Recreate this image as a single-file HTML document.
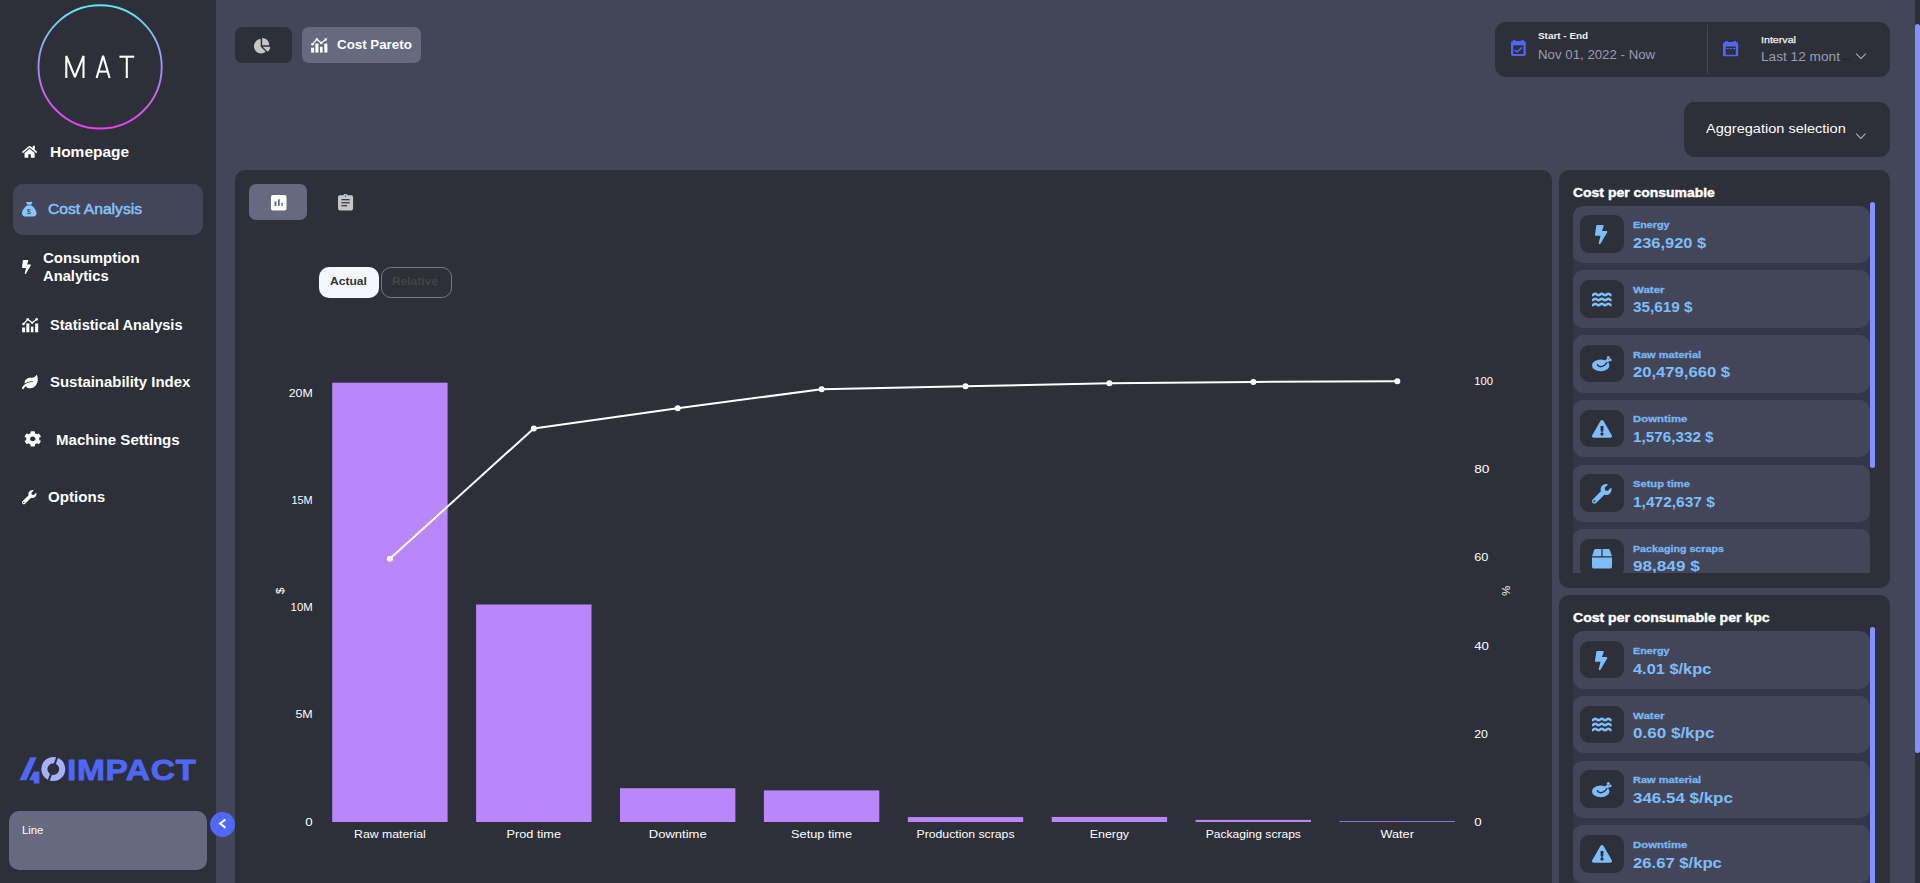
<!DOCTYPE html><html><head><meta charset="utf-8"><title>MAT - Cost Analysis</title><style>
html,body{margin:0;padding:0;background:#434658;}
body{width:1920px;height:883px;overflow:hidden;position:relative;font-family:"Liberation Sans",sans-serif;}
#root{position:absolute;left:0;top:0;width:1920px;height:883px;overflow:hidden;background:#434658;}
.b{position:absolute;box-sizing:border-box;}
.t{position:absolute;white-space:pre;transform-origin:0 0;line-height:20px;font-family:"Liberation Sans",sans-serif;}
.i{position:absolute;overflow:visible;}
.panel{position:absolute;background:#2d2f39;border-radius:10px;}
.list{position:absolute;left:1573px;width:297px;overflow:hidden;}
.lbg{position:absolute;left:0;top:12px;width:297px;height:600px;background:#343649;}
.card{position:absolute;left:0;width:297px;height:57.5px;background:#434658;border-radius:10px;}
.ibox{position:absolute;left:7px;top:9.8px;width:44px;height:37.5px;border-radius:9px;background:#2d2f39;}
</style></head><body><div id="root">
<div class="b" style="left:0;top:0;width:216px;height:883px;background:#2d2f39"></div>
<svg class="i" style="left:30px;top:0;width:140px;height:135px" viewBox="30 0 140 135">
<defs><linearGradient id="lg" x1="0" y1="0" x2="0" y2="1"><stop offset="0" stop-color="#5ee7f0"/><stop offset="0.5" stop-color="#a58cf5"/><stop offset="1" stop-color="#e83df0"/></linearGradient></defs>
<circle cx="100.1" cy="66.900" r="61.600" fill="none" stroke="url(#lg)" stroke-width="1.900"/>
<g fill="none" stroke="#ffffff" stroke-width="2.100" stroke-linejoin="bevel">
<polyline points="66.300,78 66.300,55.900 74.900,77 83.500,55.900 83.500,78"/>
<polyline points="96.600,78 103.100,55.900 109.600,78"/><line x1="98.500" y1="71.600" x2="107.700" y2="71.600"/>
<line x1="119.400" y1="56.700" x2="134.200" y2="56.700"/><line x1="126.800" y1="56.700" x2="126.800" y2="78"/>
</g></svg>
<div class="b" style="left:13px;top:184px;width:190px;height:51px;background:#434658;border-radius:10px"></div>
<svg class="i" style="left:22.2px;top:145.2px;width:15.2px;height:13.5px;color:#ffffff" viewBox="0 0 576 512" preserveAspectRatio="none" fill="currentColor"><path d="M280.37 148.26L96 300.11V464a16 16 0 0 0 16 16l112.06-.29a16 16 0 0 0 15.92-16V368a16 16 0 0 1 16-16h64a16 16 0 0 1 16 16v95.64a16 16 0 0 0 16 16.05L464 480a16 16 0 0 0 16-16V300L295.67 148.26a12.19 12.19 0 0 0-15.3 0zM571.6 251.47L488 182.56V44.05a12 12 0 0 0-12-12h-56a12 12 0 0 0-12 12v72.61L318.47 43a48 48 0 0 0-61 0L4.34 251.47a12 12 0 0 0-1.6 16.9l25.5 31A12 12 0 0 0 45.15 301l235.22-193.74a12.19 12.19 0 0 1 15.3 0L530.9 301a12 12 0 0 0 16.9-1.6l25.5-31a12 12 0 0 0-1.7-16.93z"/></svg>
<svg class="i" style="left:21.8px;top:201.8px;width:14.5px;height:14.5px;color:#88c8fe" viewBox="0 0 14.5 14.5" preserveAspectRatio="none" fill="currentColor"><path d="M3.900 0h6.600l-1.300 2.400h-3.800z"/><path d="M5.300 2.400h4l.200 1h-4.400z" opacity="0.750"/><path d="M5.100 3.400 L9.500 3.400 C12 5 14.500 8.500 14.500 11.200 C14.500 13.200 13.300 14.400 11.500 14.400 L3 14.400 C1.200 14.400 0 13.200 0 11.200 C0 8.500 2.500 5 5.100 3.400Z"/><text x="6.900" y="11.900" font-family="Liberation Sans" font-weight="400" font-size="7.600" text-anchor="middle" fill="#3a3c4e">$</text></svg>
<svg class="i" style="left:21.8px;top:260px;width:9px;height:14px;color:#ffffff" viewBox="0 0 320 512" preserveAspectRatio="none" fill="currentColor"><path d="M296 160H180.6l42.6-129.8C227.2 15 215.7 0 200 0H56C44 0 33.8 8.9 32.2 20.8l-32 240C-1.7 275.2 9.5 288 24 288h118.7L96.6 482.5c-3.6 15.2 8 29.5 23.3 29.5 8.4 0 16.4-4.4 20.8-12l176-304c9.3-15.9-2.2-36-20.7-36z"/></svg>
<svg class="i" style="left:21.8px;top:318px;width:16.3px;height:14.3px;color:#ffffff" viewBox="0 0 16.5 14.6" preserveAspectRatio="none" fill="currentColor"><rect x="0.1" y="9.7" width="3" height="4.9"/><rect x="4.35" y="5.6" width="3.15" height="9"/><rect x="9" y="8.8" width="2.6" height="5.8"/><rect x="13.3" y="5.6" width="3.1" height="9"/><polyline points="1.5,6.2 5.8,1.3 10.3,4.95 14.8,1.4" fill="none" stroke="currentColor" stroke-width="1.25"/><circle cx="1.5" cy="6.2" r="1.3"/><circle cx="5.8" cy="1.3" r="1.3"/><circle cx="10.3" cy="4.95" r="1.2"/><circle cx="14.8" cy="1.4" r="1.3"/></svg>
<svg class="i" style="left:21.8px;top:374.7px;width:15.8px;height:14.2px;color:#ffffff" viewBox="0 0 576 512" preserveAspectRatio="none" fill="currentColor"><path d="M546.2 9.7c-5.6-12.5-21.6-13-28.3-1.2C486.9 62.4 431.4 96 368 96h-80C182 96 96 182 96 288c0 7 .8 13.7 1.5 20.5C161.3 262.8 253.4 224 384 224c8.8 0 16 7.2 16 16s-7.2 16-16 16C132.6 256 26 410.1 2.4 468c-6.6 16.3 1.2 34.9 17.5 41.6 16.4 6.8 35-1.1 41.8-17.3 1.5-3.6 20.9-47.9 71.9-90.6 32.4 43.9 94 85.8 174.9 77.2C465.5 467.5 576 326.7 576 154.3c0-50.2-10.8-102.2-29.8-144.6z"/></svg>
<svg class="i" style="left:24.3px;top:430.5px;width:17.5px;height:15.7px;color:#ffffff" viewBox="0 0 512 512" preserveAspectRatio="none" fill="currentColor"><path d="M487.4 315.7l-42.6-24.6c4.3-23.2 4.3-47 0-70.2l42.6-24.6c4.9-2.8 7.1-8.6 5.5-14-11.1-35.6-30-67.8-54.7-94.6-3.8-4.1-10-5.1-14.8-2.3L380.8 110c-17.9-15.4-38.5-27.3-60.8-35.1V25.8c0-5.6-3.9-10.5-9.4-11.7-36.7-8.2-74.3-7.8-109.2 0-5.5 1.2-9.4 6.1-9.4 11.7V75c-22.2 7.9-42.8 19.8-60.8 35.1L88.7 85.5c-4.9-2.8-11-1.9-14.8 2.3-24.7 26.7-43.6 58.9-54.7 94.6-1.7 5.4.6 11.2 5.5 14L67.3 221c-4.3 23.2-4.3 47 0 70.2l-42.6 24.6c-4.9 2.8-7.1 8.6-5.5 14 11.1 35.6 30 67.8 54.7 94.6 3.8 4.1 10 5.1 14.8 2.3l42.6-24.6c17.9 15.4 38.5 27.3 60.8 35.1v49.2c0 5.6 3.9 10.5 9.4 11.7 36.7 8.2 74.3 7.8 109.2 0 5.5-1.2 9.4-6.1 9.4-11.7v-49.2c22.2-7.9 42.8-19.8 60.8-35.1l42.6 24.6c4.9 2.8 11 1.9 14.8-2.3 24.7-26.7 43.6-58.9 54.7-94.6 1.5-5.5-.7-11.3-5.6-14.1zM256 336c-44.1 0-80-35.9-80-80s35.9-80 80-80 80 35.9 80 80-35.9 80-80 80z"/></svg>
<svg class="i" style="left:21.8px;top:489.7px;width:14.5px;height:14.3px;color:#ffffff" viewBox="0 0 512 512" preserveAspectRatio="none" fill="currentColor"><path d="M507.73 109.1c-2.24-9.03-13.54-12.09-20.12-5.51l-74.36 74.36-67.88-11.31-11.31-67.88 74.36-74.36c6.62-6.62 3.43-17.9-5.66-20.16-47.38-11.74-99.55.91-136.58 37.93-39.64 39.64-50.55 97.1-34.05 147.2L18.74 402.76c-24.99 24.99-24.99 65.51 0 90.5 24.99 24.99 65.51 24.99 90.5 0l213.21-213.21c50.12 16.71 107.47 5.68 147.37-34.22 37.07-37.07 49.7-89.32 37.91-136.73zM64 472c-13.25 0-24-10.75-24-24 0-13.26 10.75-24 24-24s24 10.74 24 24c0 13.25-10.75 24-24 24z"/></svg>
<svg class="i" style="left:18px;top:755px;width:180px;height:32px" viewBox="18 755 180 32">
<path d="M19.450 780.200 L30.200 757.300 L36.700 757.300 L26.250 780.200 Z" fill="#4e68f5"/>
<path d="M29.100 780.200 L33.750 771.600 L39.400 771.600 L39.400 783.500 L33.750 783.500 L33.750 780.200 Z" fill="#4e68f5"/>
<circle cx="53.300" cy="769.100" r="8.950" fill="none" stroke="#a5b0ff" stroke-width="6.100"/>
<path d="M56.300 756.800 L58.200 757.500 L49.700 780.700 L47.800 780 Z" fill="#2d2f39"/>
</svg>
<span class="t" style="left:66.700px;top:753.500px;font-size:30.400px;line-height:30.400px;font-weight:700;color:#4e68f5;-webkit-text-stroke:0.800px #4e68f5;letter-spacing:0.500px;transform:scaleX(1.105)">IMPACT</span>
<div class="b" style="left:9px;top:811px;width:198px;height:59px;background:#666a80;border-radius:10px"></div>
<div class="b" style="left:210px;top:812px;width:25px;height:25px;border-radius:50%;background:#5068fa"></div>
<svg class="i" style="left:210px;top:812px;width:25px;height:25px" viewBox="0 0 25 25"><polyline points="15.400,7.500 10.100,11.500 15.400,15.600" fill="none" stroke="#fff" stroke-width="2" stroke-linecap="butt" stroke-linejoin="miter"/></svg>
<div class="b" style="left:235px;top:27px;width:57px;height:36px;background:#2d2f39;border-radius:7px"></div>
<svg class="i" style="left:253.9px;top:37.7px;width:16.3px;height:15.4px;color:#c6c6c6" viewBox="0 0 544 512" preserveAspectRatio="none" fill="currentColor"><path d="M527.79 288H290.5l158.03 158.03c6.04 6.04 15.98 6.53 22.19.68 38.7-36.46 65.32-85.61 73.13-140.86 1.34-9.46-6.51-17.85-16.06-17.85zm-15.83-64.8C503.72 103.74 408.26 8.28 288.8.04 279.68-.59 272 7.1 272 16.24V240h223.77c9.14 0 16.82-7.68 16.19-16.8zM224 288V50.71c0-9.55-8.39-17.4-17.84-16.06C86.99 51.49-4.1 155.6.14 280.37 4.5 408.51 114.83 513.59 243.03 511.98c50.4-.63 96.97-16.87 135.26-44.03 7.9-5.6 8.42-17.23 1.57-24.08L224 288z"/></svg>
<div class="b" style="left:302px;top:27px;width:119px;height:36px;background:#666a80;border-radius:7px"></div>
<svg class="i" style="left:310.7px;top:38.1px;width:16.5px;height:14.6px;color:#ffffff" viewBox="0 0 16.5 14.6" preserveAspectRatio="none" fill="currentColor"><rect x="0.1" y="9.7" width="3" height="4.9"/><rect x="4.35" y="5.6" width="3.15" height="9"/><rect x="9" y="8.8" width="2.6" height="5.8"/><rect x="13.3" y="5.6" width="3.1" height="9"/><polyline points="1.5,6.2 5.8,1.3 10.3,4.95 14.8,1.4" fill="none" stroke="currentColor" stroke-width="1.25"/><circle cx="1.5" cy="6.2" r="1.3"/><circle cx="5.8" cy="1.3" r="1.3"/><circle cx="10.3" cy="4.95" r="1.2"/><circle cx="14.8" cy="1.4" r="1.3"/></svg>
<div class="b" style="left:1495px;top:22px;width:395px;height:55px;background:#2d2f39;border-radius:11px"></div>
<div class="b" style="left:1707px;top:25px;width:1px;height:49px;background:#454759"></div>
<svg class="i" style="left:1510.700px;top:40px;width:14.800px;height:16.100px;color:#4f66fa" viewBox="0 0 14.800 16.100" fill="currentColor">
<rect x="2.200" y="0" width="2.100" height="2"/><rect x="10.400" y="0" width="2.100" height="2"/>
<path d="M2 0.900h10.800a2 2 0 0 1 2 2v11.200a2 2 0 0 1-2 2H2a2 2 0 0 1-2-2V2.900a2 2 0 0 1 2-2zM2.300 5.200v8.700h10.200V5.200z" fill-rule="evenodd"/>
<polyline points="3.600,10.100 6.300,11.750 11,7.400" fill="none" stroke="currentColor" stroke-width="1.500"/></svg>
<svg class="i" style="left:1723.050px;top:40.900px;width:15.200px;height:15.200px;color:#4f66fa" viewBox="0 0 15.200 15.200" fill="currentColor">
<rect x="2.350" y="0" width="2.500" height="2"/><rect x="10.500" y="0" width="2.500" height="2"/>
<path d="M2 0.900h11.200a2 2 0 0 1 2 2v11.300a1 1 0 0 1-1 1H1a1 1 0 0 1-1-1V2.900a2 2 0 0 1 2-2zM2.750 5.400v8.300h10.100V5.400z" fill-rule="evenodd"/>
<rect x="3.450" y="7" width="2.200" height="1.100"/><rect x="6.700" y="7" width="2.150" height="1.100"/><rect x="9.950" y="7" width="2.200" height="1.100"/></svg>
<svg class="i" style="left:1855px;top:52px;width:12px;height:9px" viewBox="1855 52 12 9"><polyline points="1856,53.500 1861,58.600 1866,53.500" fill="none" stroke="#b9bac4" stroke-width="1.050"/></svg>
<span class="t" style="left:1841.300px;top:50.200px;font-size:12.600px;line-height:13px;color:#1d1e25;letter-spacing:-0.800px">...</span>
<div class="b" style="left:1684px;top:102px;width:206px;height:55px;background:#2d2f39;border-radius:11px"></div>
<svg class="i" style="left:1855px;top:132px;width:12px;height:9px" viewBox="1855 132 12 9"><polyline points="1856.200,133.600 1860.800,138.600 1865.500,133.600" fill="none" stroke="#b9bac4" stroke-width="1.050"/></svg>
<div class="panel" style="left:235px;top:170px;width:1317px;height:730px"></div>
<div class="b" style="left:249px;top:184px;width:58px;height:36px;background:#666a80;border-radius:7px"></div>
<svg class="i" style="left:270.600px;top:194.750px;width:15.500px;height:15.450px" viewBox="0 0 15.500 15.450"><rect width="15.500" height="15.450" rx="2" fill="#ffffff"/>
<rect x="3.500" y="6.350" width="1.900" height="4.700" fill="#666a80"/><rect x="7" y="4.250" width="1.700" height="6.800" fill="#666a80"/><rect x="10.400" y="7.950" width="1.400" height="3.100" fill="#666a80"/></svg>
<svg class="i" style="left:337.800px;top:193.800px;width:15.100px;height:16.400px" viewBox="0 0 15.100 16.400">
<path d="M1.800 1.300h3.650a2.075 1.400 0 0 1 4.150 0h3.700a1.800 1.800 0 0 1 1.800 1.800v11.500a1.800 1.800 0 0 1-1.800 1.800H1.800A1.800 1.800 0 0 1 0 14.600V3.100a1.800 1.800 0 0 1 1.800-1.800z" fill="#c6c6c6"/>
<circle cx="7.500" cy="2.100" r="0.650" fill="#2d2f39"/>
<rect x="3.400" y="5.100" width="8.300" height="1.200" fill="#2d2f39"/><rect x="3.400" y="8.200" width="8.300" height="1.200" fill="#2d2f39"/><rect x="3.400" y="11.100" width="5.700" height="1.200" fill="#2d2f39"/></svg>
<div class="b" style="left:319px;top:267.300px;width:60.300px;height:30.400px;background:#f4f7ff;border-radius:10px"></div>
<div class="b" style="left:381px;top:267.300px;width:70.700px;height:30.400px;border:1px solid #74778a;border-radius:10px"></div>
<svg class="i" style="left:235px;top:340px;width:1317px;height:543px" viewBox="235 340 1317 543" font-family="Liberation Sans, sans-serif">
<rect x="332.20" y="382.71" width="115.4" height="439.29" fill="#bb86fc"/>
<rect x="476.10" y="604.50" width="115.4" height="217.50" fill="#bb86fc"/>
<rect x="620.00" y="788.19" width="115.4" height="33.81" fill="#bb86fc"/>
<rect x="763.90" y="790.41" width="115.4" height="31.59" fill="#bb86fc"/>
<rect x="907.80" y="817.07" width="115.4" height="4.93" fill="#bb86fc"/>
<rect x="1051.70" y="816.92" width="115.4" height="5.08" fill="#bb86fc"/>
<rect x="1195.60" y="819.88" width="115.4" height="2.12" fill="#bb86fc"/>
<rect x="1339.50" y="821.24" width="115.4" height="0.76" fill="#bb86fc"/>
<polyline fill="none" stroke="#ffffff" stroke-width="2" stroke-linejoin="round" points="389.9,558.8 533.8,428.4 677.7,408.2 821.6,389.3 965.5,386.2 1109.4,383.3 1253.3,381.9 1397.3,381.3"/>
<circle cx="389.9" cy="558.8" r="3" fill="#ffffff"/>
<circle cx="533.8" cy="428.4" r="3" fill="#ffffff"/>
<circle cx="677.7" cy="408.2" r="3" fill="#ffffff"/>
<circle cx="821.6" cy="389.3" r="3" fill="#ffffff"/>
<circle cx="965.5" cy="386.2" r="3" fill="#ffffff"/>
<circle cx="1109.4" cy="383.3" r="3" fill="#ffffff"/>
<circle cx="1253.3" cy="381.9" r="3" fill="#ffffff"/>
<circle cx="1397.3" cy="381.3" r="3" fill="#ffffff"/>
<text x="312.700" y="397.00" font-size="11.400" fill="#fff" text-anchor="end" textLength="24" lengthAdjust="spacingAndGlyphs">20M</text>
<text x="312.700" y="504.00" font-size="11.400" fill="#fff" text-anchor="end" textLength="21.2" lengthAdjust="spacingAndGlyphs">15M</text>
<text x="312.700" y="611.00" font-size="11.400" fill="#fff" text-anchor="end" textLength="22.1" lengthAdjust="spacingAndGlyphs">10M</text>
<text x="312.700" y="718.30" font-size="11.400" fill="#fff" text-anchor="end" textLength="17.3" lengthAdjust="spacingAndGlyphs">5M</text>
<text x="312.700" y="826.00" font-size="11.400" fill="#fff" text-anchor="end" textLength="7.4" lengthAdjust="spacingAndGlyphs">0</text>
<text x="1474.200" y="385.00" font-size="11.400" fill="#fff" textLength="18.7" lengthAdjust="spacingAndGlyphs">100</text>
<text x="1474.200" y="473.00" font-size="11.400" fill="#fff" textLength="15.2" lengthAdjust="spacingAndGlyphs">80</text>
<text x="1474.200" y="561.20" font-size="11.400" fill="#fff" textLength="14.1" lengthAdjust="spacingAndGlyphs">60</text>
<text x="1474.200" y="649.80" font-size="11.400" fill="#fff" textLength="14.7" lengthAdjust="spacingAndGlyphs">40</text>
<text x="1474.200" y="737.90" font-size="11.400" fill="#fff" textLength="13.7" lengthAdjust="spacingAndGlyphs">20</text>
<text x="1474.200" y="826.00" font-size="11.400" fill="#fff" textLength="7.4" lengthAdjust="spacingAndGlyphs">0</text>
<text x="389.90" y="838.100" font-size="11.400" fill="#fff" text-anchor="middle" textLength="71.6" lengthAdjust="spacingAndGlyphs">Raw material</text>
<text x="533.80" y="838.100" font-size="11.400" fill="#fff" text-anchor="middle" textLength="54.4" lengthAdjust="spacingAndGlyphs">Prod time</text>
<text x="677.70" y="838.100" font-size="11.400" fill="#fff" text-anchor="middle" textLength="57.9" lengthAdjust="spacingAndGlyphs">Downtime</text>
<text x="821.60" y="838.100" font-size="11.400" fill="#fff" text-anchor="middle" textLength="61" lengthAdjust="spacingAndGlyphs">Setup time</text>
<text x="965.50" y="838.100" font-size="11.400" fill="#fff" text-anchor="middle" textLength="98" lengthAdjust="spacingAndGlyphs">Production scraps</text>
<text x="1109.40" y="838.100" font-size="11.400" fill="#fff" text-anchor="middle" textLength="39.4" lengthAdjust="spacingAndGlyphs">Energy</text>
<text x="1253.30" y="838.100" font-size="11.400" fill="#fff" text-anchor="middle" textLength="95.2" lengthAdjust="spacingAndGlyphs">Packaging scraps</text>
<text x="1397.20" y="838.100" font-size="11.400" fill="#fff" text-anchor="middle" textLength="33.4" lengthAdjust="spacingAndGlyphs">Water</text>
<text transform="translate(283.700,590.800) rotate(-90)" font-size="11.400" fill="#fff" text-anchor="middle">$</text>
<text transform="translate(1501.700,590.700) rotate(90)" font-size="11.400" fill="#fff" text-anchor="middle">%</text>
</svg>
<div class="panel" style="left:1559px;top:170px;width:331px;height:418px"></div>
<div class="panel" style="left:1559px;top:595px;width:331px;height:320px"></div>
<div class="list" style="top:201px;height:372px"><div class="lbg"></div>
<div class="card" style="top:4.60px"><div class="ibox"></div></div>
<div class="card" style="top:69.35px"><div class="ibox"></div></div>
<div class="card" style="top:134.10px"><div class="ibox"></div></div>
<div class="card" style="top:198.85px"><div class="ibox"></div></div>
<div class="card" style="top:263.60px"><div class="ibox"></div></div>
<div class="card" style="top:328.35px"><div class="ibox"></div></div>
</div>
<div class="list" style="top:626px;height:260px"><div class="lbg"></div>
<div class="card" style="top:5.00px"><div class="ibox"></div></div>
<div class="card" style="top:69.75px"><div class="ibox"></div></div>
<div class="card" style="top:134.50px"><div class="ibox"></div></div>
<div class="card" style="top:199.25px"><div class="ibox"></div></div>
</div>
<div class="b" style="left:1573px;top:201px;width:297px;height:372px;overflow:hidden"><div class="b" style="left:-1573px;top:-201px;width:1920px;height:883px">
<svg class="i" style="left:1595.3px;top:225.00000000000003px;width:12.4px;height:19.2px;color:#7ebcfa" viewBox="0 0 320 512" preserveAspectRatio="none" fill="currentColor"><path d="M296 160H180.6l42.6-129.8C227.2 15 215.7 0 200 0H56C44 0 33.8 8.9 32.2 20.8l-32 240C-1.7 275.2 9.5 288 24 288h118.7L96.6 482.5c-3.6 15.2 8 29.5 23.3 29.5 8.4 0 16.4-4.4 20.8-12l176-304c9.3-15.9-2.2-36-20.7-36z"/></svg>
<svg class="i" style="left:1591.7px;top:292.75px;width:19.6px;height:14px;color:#7ebcfa" viewBox="0 0 20 14" preserveAspectRatio="none" fill="currentColor"><path d="M0 2.2c1.7 0 1.7-1.4 3.35-1.4s1.65 1.400 3.300 1.400 1.700-1.400 3.350-1.400 1.650 1.400 3.300 1.400 1.700-1.400 3.350-1.400S18.300 2.200 20 2.200" fill="none" stroke="currentColor" stroke-width="2.5"/><path d="M0 7.200c1.700 0 1.700-1.400 3.350-1.400s1.650 1.400 3.300 1.400 1.700-1.400 3.350-1.400 1.650 1.400 3.300 1.400 1.700-1.400 3.350-1.400S18.300 7.200 20 7.200" fill="none" stroke="currentColor" stroke-width="2.5"/><path d="M0 12.200c1.700 0 1.700-1.400 3.350-1.400s1.650 1.400 3.300 1.400 1.700-1.400 3.350-1.400 1.650 1.400 3.300 1.400 1.700-1.400 3.350-1.400S18.300 12.200 20 12.200" fill="none" stroke="currentColor" stroke-width="2.5"/></svg>
<svg class="i" style="left:1591.8px;top:355.90000000000003px;width:19.6px;height:15.2px;color:#7ebcfa" viewBox="0 0 19.6 15.2" preserveAspectRatio="none" fill="currentColor"><ellipse cx="8.7" cy="9.4" rx="8.7" ry="5.800"/><path d="M10.500 7.500 L15.300 2.200 L17.600 4.600 L13.500 9.500z"/><circle cx="16.300" cy="1.600" r="1.500"/><circle cx="18.200" cy="3.900" r="1.400"/><path d="M5.200 8.200 C6.200 11.800 11.500 12 15.200 6.200" stroke="#2d2f39" stroke-width="1.300" fill="none"/></svg>
<svg class="i" style="left:1591.5px;top:419.55px;width:20px;height:17.8px;color:#7ebcfa" viewBox="0 0 576 512" preserveAspectRatio="none" fill="currentColor"><path d="M569.517 440.013C587.975 472.007 564.806 512 527.94 512H48.054c-36.937 0-59.999-40.055-41.577-71.987L246.423 23.985c18.467-32.009 64.72-31.951 83.154 0l239.94 416.028zM288 354c-25.405 0-46 20.595-46 46s20.595 46 46 46 46-20.595 46-46-20.595-46-46-46zm-43.673-165.346l7.418 136c.347 6.364 5.609 11.346 11.982 11.346h48.546c6.373 0 11.635-4.982 11.982-11.346l7.418-136c.375-6.874-5.098-12.654-11.982-12.654h-63.383c-6.884 0-12.356 5.78-11.981 12.654z"/></svg>
<svg class="i" style="left:1591.7px;top:484.0px;width:19.6px;height:19.6px;color:#7ebcfa" viewBox="0 0 512 512" preserveAspectRatio="none" fill="currentColor"><path d="M507.73 109.1c-2.24-9.03-13.54-12.09-20.12-5.51l-74.36 74.36-67.88-11.31-11.31-67.88 74.36-74.36c6.62-6.62 3.43-17.9-5.66-20.16-47.38-11.74-99.55.91-136.58 37.93-39.64 39.64-50.55 97.1-34.05 147.2L18.74 402.76c-24.99 24.99-24.99 65.51 0 90.5 24.99 24.99 65.51 24.99 90.5 0l213.21-213.21c50.12 16.71 107.47 5.68 147.37-34.22 37.07-37.07 49.7-89.32 37.91-136.73zM64 472c-13.25 0-24-10.75-24-24 0-13.26 10.75-24 24-24s24 10.74 24 24c0 13.25-10.75 24-24 24z"/></svg>
<svg class="i" style="left:1591.5px;top:548.8499999999999px;width:20px;height:19.5px;color:#7ebcfa" viewBox="0 0 512 512" preserveAspectRatio="none" fill="currentColor"><path d="M509.5 184.6L458.9 32.8C452.4 13.2 434.1 0 413.4 0H272v192h238.7c-.4-2.500-.4-5-1.200-7.400zM240 0H98.600c-20.700 0-39 13.200-45.500 32.800L2.500 184.600c-.800 2.400-.800 4.900-1.200 7.400H240V0zM0 224v240c0 26.500 21.500 48 48 48h416c26.500 0 48-21.500 48-48V224H0z"/></svg>
<span class="t" style="left:1633.20px;top:215.00px;font-size:9.4px;font-weight:700;color:#78b6f6;transform:scaleX(1.1520);-webkit-text-stroke:0.3px #78b6f6;">Energy</span>
<span class="t" style="left:1633.00px;top:233.00px;font-size:15.4px;font-weight:700;color:#7ebcfa;transform:scaleX(1.0695);">236,920 $</span>
<span class="t" style="left:1633.20px;top:280.00px;font-size:9.4px;font-weight:700;color:#78b6f6;transform:scaleX(1.2287);-webkit-text-stroke:0.3px #78b6f6;">Water</span>
<span class="t" style="left:1633.00px;top:297.00px;font-size:15.4px;font-weight:700;color:#7ebcfa;transform:scaleX(0.9937);">35,619 $</span>
<span class="t" style="left:1633.20px;top:345.00px;font-size:9.4px;font-weight:700;color:#78b6f6;transform:scaleX(1.1782);-webkit-text-stroke:0.3px #78b6f6;">Raw material</span>
<span class="t" style="left:1633.00px;top:362.00px;font-size:15.4px;font-weight:700;color:#7ebcfa;transform:scaleX(1.0800);">20,479,660 $</span>
<span class="t" style="left:1633.20px;top:409.00px;font-size:9.4px;font-weight:700;color:#78b6f6;transform:scaleX(1.2124);-webkit-text-stroke:0.3px #78b6f6;">Downtime</span>
<span class="t" style="left:1633.00px;top:427.00px;font-size:15.4px;font-weight:700;color:#7ebcfa;transform:scaleX(0.9912);">1,576,332 $</span>
<span class="t" style="left:1633.20px;top:474.00px;font-size:9.4px;font-weight:700;color:#78b6f6;transform:scaleX(1.1885);-webkit-text-stroke:0.3px #78b6f6;">Setup time</span>
<span class="t" style="left:1633.00px;top:492.00px;font-size:15.4px;font-weight:700;color:#7ebcfa;transform:scaleX(1.0066);">1,472,637 $</span>
<span class="t" style="left:1633.20px;top:539.00px;font-size:9.4px;font-weight:700;color:#78b6f6;transform:scaleX(1.1394);-webkit-text-stroke:0.3px #78b6f6;">Packaging scraps</span>
<span class="t" style="left:1633.00px;top:556.00px;font-size:15.4px;font-weight:700;color:#7ebcfa;transform:scaleX(1.1134);">98,849 $</span></div></div>
<svg class="i" style="left:1595.3px;top:650.5999999999999px;width:12.4px;height:19.2px;color:#7ebcfa" viewBox="0 0 320 512" preserveAspectRatio="none" fill="currentColor"><path d="M296 160H180.6l42.6-129.8C227.2 15 215.7 0 200 0H56C44 0 33.8 8.9 32.2 20.8l-32 240C-1.7 275.2 9.5 288 24 288h118.7L96.6 482.5c-3.6 15.2 8 29.5 23.3 29.5 8.4 0 16.4-4.4 20.8-12l176-304c9.3-15.9-2.2-36-20.7-36z"/></svg>
<svg class="i" style="left:1591.7px;top:718.3499999999999px;width:19.6px;height:14px;color:#7ebcfa" viewBox="0 0 20 14" preserveAspectRatio="none" fill="currentColor"><path d="M0 2.2c1.7 0 1.7-1.4 3.35-1.4s1.65 1.400 3.300 1.400 1.700-1.400 3.350-1.400 1.650 1.400 3.300 1.400 1.700-1.400 3.350-1.400S18.300 2.200 20 2.200" fill="none" stroke="currentColor" stroke-width="2.5"/><path d="M0 7.200c1.700 0 1.700-1.400 3.350-1.400s1.650 1.400 3.300 1.400 1.700-1.400 3.350-1.400 1.650 1.400 3.300 1.400 1.700-1.400 3.350-1.400S18.300 7.200 20 7.200" fill="none" stroke="currentColor" stroke-width="2.5"/><path d="M0 12.200c1.700 0 1.700-1.400 3.350-1.400s1.650 1.400 3.300 1.400 1.700-1.400 3.350-1.400 1.650 1.400 3.300 1.400 1.700-1.400 3.350-1.400S18.300 12.200 20 12.200" fill="none" stroke="currentColor" stroke-width="2.5"/></svg>
<svg class="i" style="left:1591.8px;top:781.4999999999999px;width:19.6px;height:15.2px;color:#7ebcfa" viewBox="0 0 19.6 15.2" preserveAspectRatio="none" fill="currentColor"><ellipse cx="8.7" cy="9.4" rx="8.7" ry="5.800"/><path d="M10.500 7.500 L15.300 2.200 L17.600 4.600 L13.500 9.500z"/><circle cx="16.300" cy="1.600" r="1.500"/><circle cx="18.200" cy="3.900" r="1.400"/><path d="M5.200 8.200 C6.200 11.800 11.500 12 15.200 6.200" stroke="#2d2f39" stroke-width="1.300" fill="none"/></svg>
<svg class="i" style="left:1591.5px;top:845.15px;width:20px;height:17.8px;color:#7ebcfa" viewBox="0 0 576 512" preserveAspectRatio="none" fill="currentColor"><path d="M569.517 440.013C587.975 472.007 564.806 512 527.94 512H48.054c-36.937 0-59.999-40.055-41.577-71.987L246.423 23.985c18.467-32.009 64.72-31.951 83.154 0l239.94 416.028zM288 354c-25.405 0-46 20.595-46 46s20.595 46 46 46 46-20.595 46-46-20.595-46-46-46zm-43.673-165.346l7.418 136c.347 6.364 5.609 11.346 11.982 11.346h48.546c6.373 0 11.635-4.982 11.982-11.346l7.418-136c.375-6.874-5.098-12.654-11.982-12.654h-63.383c-6.884 0-12.356 5.78-11.981 12.654z"/></svg>
<div class="b" style="left:1870px;top:202px;width:5px;height:266px;background:#8391ff;border-radius:3px"></div>
<div class="b" style="left:1870px;top:627px;width:5px;height:300px;background:#8391ff;border-radius:3px"></div>
<div class="b" style="left:1915px;top:0;width:5px;height:883px;background:#2d2f39"></div>
<div class="b" style="left:1915px;top:24px;width:5px;height:729px;background:#8391ff;border-radius:3px"></div>
<span class="t" style="left:50.30px;top:142.00px;font-size:14px;font-weight:700;color:#ffffff;transform:scaleX(1.1050);">Homepage</span>
<span class="t" style="left:48.40px;top:199.00px;font-size:14px;font-weight:400;color:#86c4fd;transform:scaleX(1.1196);-webkit-text-stroke:0.45px #86c4fd;">Cost Analysis</span>
<span class="t" style="left:43.30px;top:248.00px;font-size:14px;font-weight:700;color:#ffffff;transform:scaleX(1.0710);">Consumption</span>
<span class="t" style="left:43.20px;top:266.00px;font-size:14px;font-weight:700;color:#ffffff;transform:scaleX(1.0539);">Analytics</span>
<span class="t" style="left:50.30px;top:315.00px;font-size:14px;font-weight:700;color:#ffffff;transform:scaleX(1.0429);">Statistical Analysis</span>
<span class="t" style="left:50.30px;top:372.00px;font-size:14px;font-weight:700;color:#ffffff;transform:scaleX(1.0674);">Sustainability Index</span>
<span class="t" style="left:56.40px;top:430.00px;font-size:14px;font-weight:700;color:#ffffff;transform:scaleX(1.0742);">Machine Settings</span>
<span class="t" style="left:48.40px;top:487.00px;font-size:14px;font-weight:700;color:#ffffff;transform:scaleX(1.0784);">Options</span>
<span class="t" style="left:22.00px;top:821.00px;font-size:10.2px;font-weight:400;color:#ffffff;transform:scaleX(1.1080);">Line</span>
<span class="t" style="left:336.50px;top:35.00px;font-size:12.6px;font-weight:700;color:#ffffff;transform:scaleX(1.0583);">Cost Pareto</span>
<span class="t" style="left:1537.50px;top:26.00px;font-size:9.3px;font-weight:700;color:#f0f0f0;transform:scaleX(1.0675);">Start - End</span>
<span class="t" style="left:1538.30px;top:45.00px;font-size:12.6px;font-weight:400;color:#9a9db2;transform:scaleX(1.0528);">Nov 01, 2022 - Now</span>
<span class="t" style="left:1761.00px;top:30.00px;font-size:9.3px;font-weight:400;color:#f0f0f0;transform:scaleX(1.1467);-webkit-text-stroke:0.25px #f0f0f0;">Interval</span>
<span class="t" style="left:1761.30px;top:47.00px;font-size:12.6px;font-weight:400;color:#9a9db2;transform:scaleX(1.0844);">Last 12 mont</span>
<span class="t" style="left:1705.60px;top:119.00px;font-size:12.6px;font-weight:400;color:#ffffff;transform:scaleX(1.1538);">Aggregation selection</span>
<span class="t" style="left:329.50px;top:271.00px;font-size:11px;font-weight:700;color:#333333;transform:scaleX(1.0958);">Actual</span>
<span class="t" style="left:391.50px;top:271.00px;font-size:11px;font-weight:700;color:#454545;transform:scaleX(1.0871);">Relative</span>
<span class="t" style="left:1573.00px;top:183.00px;font-size:12.6px;font-weight:700;color:#ffffff;transform:scaleX(1.1077);-webkit-text-stroke:0.4px #fff;">Cost per consumable</span>
<span class="t" style="left:1573.00px;top:608.00px;font-size:12.6px;font-weight:700;color:#ffffff;transform:scaleX(1.1142);-webkit-text-stroke:0.4px #fff;">Cost per consumable per kpc</span>
<span class="t" style="left:1633.20px;top:641.00px;font-size:9.4px;font-weight:700;color:#78b6f6;transform:scaleX(1.1520);-webkit-text-stroke:0.3px #78b6f6;">Energy</span>
<span class="t" style="left:1633.00px;top:659.00px;font-size:15.4px;font-weight:700;color:#7ebcfa;transform:scaleX(1.0645);">4.01 $/kpc</span>
<span class="t" style="left:1633.20px;top:706.00px;font-size:9.4px;font-weight:700;color:#78b6f6;transform:scaleX(1.2287);-webkit-text-stroke:0.3px #78b6f6;">Water</span>
<span class="t" style="left:1633.00px;top:723.00px;font-size:15.4px;font-weight:700;color:#7ebcfa;transform:scaleX(1.1073);">0.60 $/kpc</span>
<span class="t" style="left:1633.20px;top:770.00px;font-size:9.4px;font-weight:700;color:#78b6f6;transform:scaleX(1.1782);-webkit-text-stroke:0.3px #78b6f6;">Raw material</span>
<span class="t" style="left:1633.00px;top:788.00px;font-size:15.4px;font-weight:700;color:#7ebcfa;transform:scaleX(1.1010);">346.54 $/kpc</span>
<span class="t" style="left:1633.20px;top:835.00px;font-size:9.4px;font-weight:700;color:#78b6f6;transform:scaleX(1.2124);-webkit-text-stroke:0.3px #78b6f6;">Downtime</span>
<span class="t" style="left:1633.00px;top:853.00px;font-size:15.4px;font-weight:700;color:#7ebcfa;transform:scaleX(1.0820);">26.67 $/kpc</span>
</div></body></html>
